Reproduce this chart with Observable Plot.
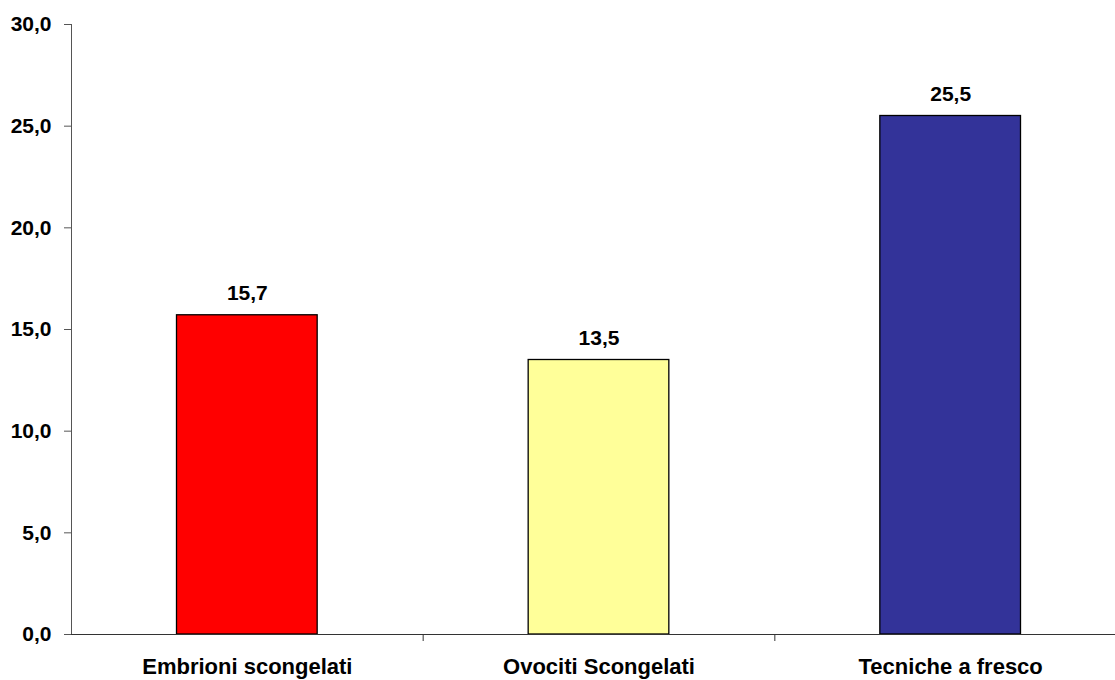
<!DOCTYPE html>
<html>
<head>
<meta charset="utf-8">
<script src="https://cdn.jsdelivr.net/npm/d3@7"></script>
<script src="https://cdn.jsdelivr.net/npm/@observablehq/plot@0.6"></script>
<style>
  html, body { margin: 0; padding: 0; background: #fff; }
  #chart svg { display: block; }
</style>
</head>
<body>
<div id="chart"></div>
<script>
const categories = ["Embrioni scongelati", "Ovociti Scongelati", "Tecniche a fresco"];
const values = [15.7, 13.5, 25.5];
const colors = ["#FF0000", "#FFFF99", "#333399"];
const yTicks = [0, 5, 10, 15, 20, 25, 30];

const fmt = d => d.toFixed(1).replace(".", ",");
const data = categories.map((c, i) => ({ category: c, index: i, value: values[i], color: colors[i] }));
const labelPositions = categories.map((c, i) => i + 0.5);
const boundaries = categories.slice(1).map((c, i) => i + 1);

const chart = Plot.plot({
  width: 1115,
  height: 680,
  marginLeft: 71,
  marginRight: 0,
  marginTop: 24,
  marginBottom: 46,
  style: { fontFamily: "'Liberation Sans', Arial, sans-serif", fontWeight: "bold", background: "#fff" },
  x: { domain: [0, categories.length], range: [71, 1126] },
  y: { domain: [0, 30] },
  marks: [
    Plot.rectY(data, {
      x1: d => d.index + 0.3,
      x2: d => d.index + 0.7,
      y1: 0,
      y2: "value",
      fill: d => d.color,
      stroke: "#000",
      strokeWidth: 1.3
    }),
    Plot.text(data, {
      x: d => d.index + 0.5,
      y: "value",
      text: d => fmt(d.value),
      dy: -22,
      fontSize: 21,
      fontWeight: "bold",
      fill: "#000"
    }),
    Plot.axisY({
      ticks: yTicks,
      tickFormat: fmt,
      tickSize: 7,
      tickPadding: 13,
      fontSize: 21,
      fontWeight: "bold",
      stroke: "#555",
      color: "#000",
      label: null
    }),
    Plot.ruleX([0], { stroke: "#555", strokeWidth: 1 }),
    Plot.ruleY([0], { stroke: "#333", strokeWidth: 1 }),
    Plot.axisX({
      ticks: boundaries,
      tickFormat: () => "",
      tickSize: 7,
      stroke: "#333",
      label: null
    }),
    Plot.axisX({
      ticks: labelPositions,
      tickFormat: (d, i) => categories[Math.round(d - 0.5)],
      tickSize: 0,
      tickPadding: 24,
      fontSize: 22,
      fontWeight: "bold",
      color: "#000",
      label: null
    })
  ]
});
document.getElementById("chart").appendChild(chart);
</script>
</body>
</html>
